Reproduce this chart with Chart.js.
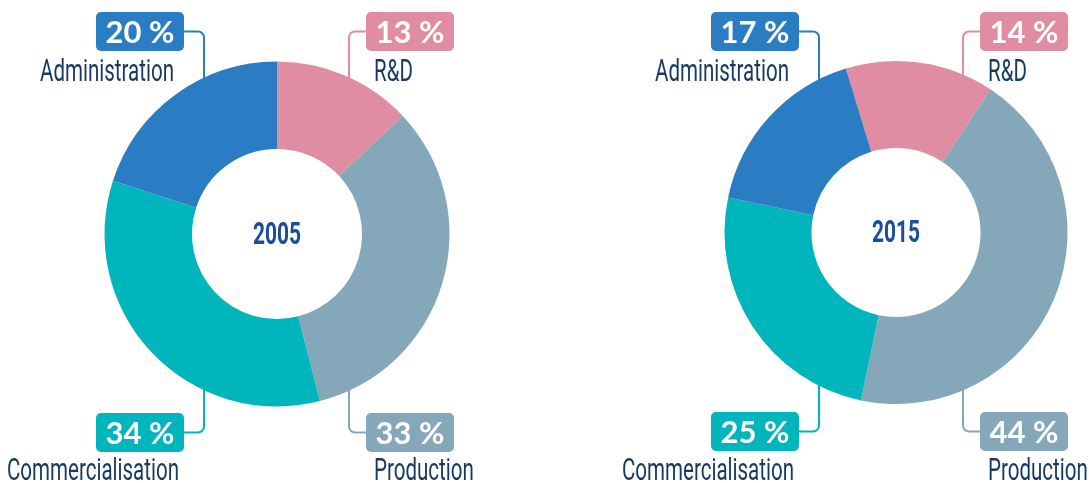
<!DOCTYPE html>
<html>
<head>
<meta charset="utf-8">
<script src="https://cdn.jsdelivr.net/npm/chart.js@4/dist/chart.umd.min.js"></script>
<style>
  html,body{margin:0;padding:0;background:#fff;}
  #wrap{position:relative;width:1089px;height:483px;}
  .pane{position:absolute;top:0;height:483px;}
  #pane2005{left:0;width:545px;}
  #pane2015{left:545px;width:544px;}
</style>
</head>
<body>
<div id="wrap">
  <div class="pane" id="pane2005"><canvas id="c2005"></canvas></div>
  <div class="pane" id="pane2015"><canvas id="c2015"></canvas></div>
</div>
<script>
/* Budget split, two doughnuts */
const categories = ['R&D', 'Production', 'Commercialisation', 'Administration'];
const years = ['2005', '2015'];
const values2005 = [13, 33, 34, 20];
const values2015 = [14, 44, 25, 17];
const colors = ['#e08ca2', '#85a7ba', '#00b6bc', '#2a7dc3'];
// where each category's callout sits: top/bottom + left/right
const slots = ['tr', 'br', 'bl', 'tl'];

const NAME_FONT = '32px "Liberation Sans Narrow", Roboto, sans-serif';
const PCT_FONT = 'bold 31px Lato, "Open Sans", sans-serif';
const YEAR_FONT = 'bold 31px "Liberation Sans Narrow", Roboto, sans-serif';
const NAME_COLOR = '#163a5f';
const YEAR_COLOR = '#1b4d9b';

function rrect(ctx, x, y, w, h, r){
  ctx.beginPath();
  ctx.moveTo(x+r, y);
  ctx.lineTo(x+w-r, y); ctx.arcTo(x+w, y, x+w, y+r, r);
  ctx.lineTo(x+w, y+h-r); ctx.arcTo(x+w, y+h, x+w-r, y+h, r);
  ctx.lineTo(x+r, y+h); ctx.arcTo(x, y+h, x, y+h-r, r);
  ctx.lineTo(x, y+r); ctx.arcTo(x, y, x+r, y, r);
  ctx.closePath();
}

function slotGeom(chart, i, o){
  const arc = chart.getDatasetMeta(0).data[0];
  const cx = arc.x, cy = arc.y, r = arc.outerRadius;
  const s = slots[i], top = s[0]==='t', left = s[1]==='l';
  const lx = cx + (left ? o.leftDx : o.rightDx);
  const bw = 88, bh = 39;
  const bx = left ? lx - 20 - bw : lx + 17;
  const by = top ? 12 : o.bottomY;
  return {cx, cy, r, top, left, lx, bx, by, bw, bh, ly: by + bh/2};
}

const callouts = {
  id: 'callouts',
  beforeDatasetsDraw(chart, args, o){
    const ctx = chart.ctx;
    categories.forEach((c, i)=>{
      const g = slotGeom(chart, i, o);
      const dx = g.lx - g.cx;
      const reach = Math.sqrt(Math.max(0, g.r*g.r - dx*dx)) - 6;
      const ey = g.top ? g.cy - reach : g.cy + reach;
      const dir = g.top ? 1 : -1, rad = 6;
      ctx.save();
      ctx.strokeStyle = colors[i]; ctx.lineWidth = 2;
      ctx.beginPath();
      const sx = g.left ? g.bx + g.bw : g.bx;
      ctx.moveTo(sx, g.ly);
      ctx.lineTo(g.left ? g.lx - rad : g.lx + rad, g.ly);
      ctx.arcTo(g.lx, g.ly, g.lx, g.ly + dir*rad, rad);
      ctx.lineTo(g.lx, ey);
      ctx.stroke();
      ctx.restore();
    });
  },
  afterDatasetsDraw(chart, args, o){
    const ctx = chart.ctx;
    const vals = chart.data.datasets[0].data;
    ctx.save();
    ctx.font = NAME_FONT;
    const k = 134 / ctx.measureText('Administration').width;
    categories.forEach((c, i)=>{
      const g = slotGeom(chart, i, o);
      ctx.fillStyle = colors[i];
      rrect(ctx, g.bx, g.by, g.bw, g.bh, 5);
      ctx.fill();
      ctx.fillStyle = '#fff';
      ctx.font = PCT_FONT;
      ctx.textAlign = 'center'; ctx.textBaseline = 'middle';
      ctx.fillText(vals[i] + ' %', g.bx + g.bw/2, g.by + g.bh/2 + 1);
      // category name
      ctx.font = NAME_FONT;
      ctx.fillStyle = NAME_COLOR;
      ctx.textBaseline = 'alphabetic';
      const ny = g.top ? 81 : 480;
      ctx.save();
      if (g.left){
        ctx.textAlign = 'right';
        ctx.translate(g.bx + g.bw - (g.top ? 10 : 5), ny);
      } else {
        ctx.textAlign = 'left';
        ctx.translate(g.bx + 8, ny);
      }
      ctx.scale(k, 1);
      ctx.fillText(c, 0, 0);
      ctx.restore();
    });
    // year in the hole
    const arc = chart.getDatasetMeta(0).data[0];
    ctx.font = YEAR_FONT;
    const ky = 48 / ctx.measureText('2005').width;
    ctx.fillStyle = YEAR_COLOR;
    ctx.textAlign = 'center'; ctx.textBaseline = 'middle';
    ctx.translate(arc.x, arc.y + 2);
    ctx.scale(ky, 1);
    ctx.fillText(o.year, 0, 0);
    ctx.restore();
  }
};

function makeDonut(id, year, values, rotation, pad, calloutOpts){
  const ctx = document.getElementById(id);
  return new Chart(ctx, {
    type: 'doughnut',
    data: { labels: categories, datasets: [{ data: values, backgroundColor: colors, borderWidth: 0, hoverOffset: 0 }] },
    options: {
      responsive: true, maintainAspectRatio: false, animation: false,
      rotation, cutout: '49.3%',
      layout: { padding: pad },
      plugins: { legend: { display: false }, tooltip: { enabled: false },
        callouts: Object.assign({ year }, calloutOpts) }
    },
    plugins: [callouts]
  });
}

makeDonut('c2005', years[0], values2005, 0,
  { left: 104.5, right: 95.5, top: 61.5, bottom: 76.5 },
  { leftDx: -73, rightDx: 72, bottomY: 413 });
makeDonut('c2015', years[1], values2015, -17,
  { left: 179.5, right: 21.5, top: 61, bottom: 79 },
  { leftDx: -77, rightDx: 67, bottomY: 412 });
</script>
</body>
</html>
